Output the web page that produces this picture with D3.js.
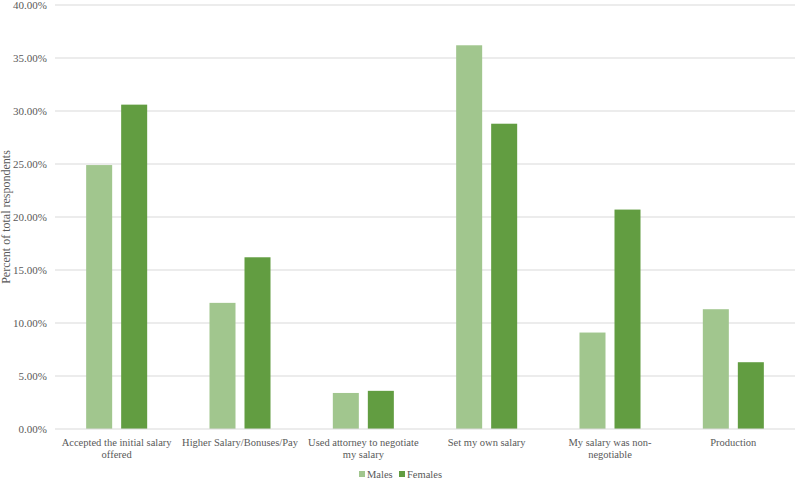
<!DOCTYPE html>
<html><head><meta charset="utf-8">
<script src="https://cdn.jsdelivr.net/npm/d3@7"></script>
<style>body{margin:0;background:#fff}svg{display:block}</style>
</head><body><svg id="c" width="800" height="480"></svg>
<script>
const categories = [["Accepted the initial salary","offered"],["Higher Salary/Bonuses/Pay"],["Used attorney to negotiate","my salary"],["Set my own salary"],["My salary was non-","negotiable"],["Production"]];
const seriesNames = ["Males","Females"];
const males = [24.9, 11.9, 3.4, 36.2, 9.1, 11.3];
const females = [30.6, 16.2, 3.6, 28.8, 20.7, 6.3];
const yTicks = [0,5,10,15,20,25,30,35,40];
const colors = ["#a1c68e","#629d41"];
const FONT = "'Liberation Serif', Tinos, 'Times New Roman', 'DejaVu Serif', serif";

const svg = d3.select("#c");
const m = {l:55, r:5, t:5, b:51};
const W = 800, H = 480;
const x0 = d3.scaleBand().domain(d3.range(categories.length)).range([m.l, W-m.r]).paddingInner(0).paddingOuter(0);
const x1 = d3.scaleBand().domain(seriesNames).range([0, x0.bandwidth()]).paddingInner(0.257).paddingOuter(0.89);
const y = d3.scaleLinear().domain([0,40]).range([H-m.b, m.t]);

svg.append("g").selectAll("line").data(yTicks.slice(1)).join("line")
  .attr("x1", m.l).attr("x2", W-m.r).attr("y1", d=>y(d)).attr("y2", d=>y(d))
  .attr("stroke","#d9d9d9").attr("stroke-width",1);

const yAxis = svg.append("g").attr("transform",`translate(${m.l},0)`)
  .call(d3.axisLeft(y).tickValues(yTicks).tickSize(0).tickPadding(8).tickFormat(d=>d.toFixed(2)+"%"));
yAxis.select(".domain").remove();
yAxis.attr("font-family", null);
yAxis.selectAll("text").attr("font-size",11).attr("fill","#595959").style("font-family",FONT);

const data = [males, females];
const g = svg.append("g");
categories.forEach((c,i)=>{
  seriesNames.forEach((s,j)=>{
    g.append("rect").attr("x", x0(i)+x1(s)).attr("width", x1.bandwidth())
      .attr("y", y(data[j][i])).attr("height", y(0)-y(data[j][i])).attr("fill", colors[j]);
  });
});

svg.append("line").attr("x1",m.l).attr("x2",W-m.r).attr("y1",y(0)).attr("y2",y(0)).attr("stroke","#d9d9d9");

const xl = svg.append("g");
categories.forEach((lines,i)=>{
  const cx = x0(i)+x0.bandwidth()/2;
  const t = xl.append("text").attr("x", cx).attr("y", y(0)+17)
    .attr("text-anchor","middle").attr("font-size",10.5).attr("fill","#595959").style("font-family",FONT);
  lines.forEach((ln,k)=> t.append("tspan").attr("x", cx).attr("dy", k===0?0:12).text(ln));
});

svg.append("text").attr("transform",`translate(10,${(y(0)+y(40))/2}) rotate(-90)`)
  .attr("text-anchor","middle").attr("font-size",12).attr("fill","#595959").style("font-family",FONT)
  .text("Percent of total respondents");

const lg = svg.append("g").attr("transform","translate(0,478)");
const legX = [359, 399];
seriesNames.forEach((s,j)=>{
  lg.append("rect").attr("x",legX[j]).attr("y",-7).attr("width",6).attr("height",6).attr("fill",colors[j]);
  lg.append("text").attr("x",legX[j]+8).attr("y",0).attr("font-size",10.5).attr("fill","#595959").style("font-family",FONT).text(s);
});
</script></body></html>
